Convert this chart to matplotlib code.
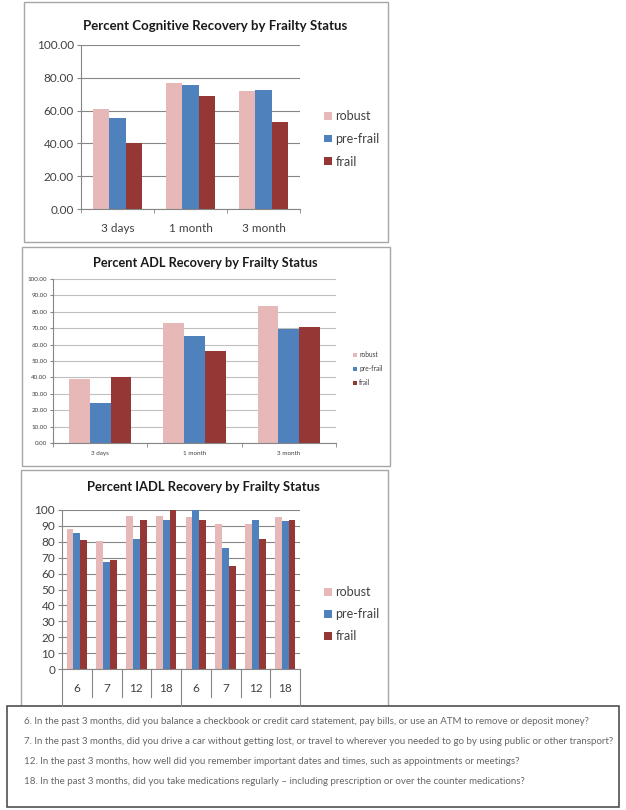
import matplotlib
matplotlib.use("Agg")
import matplotlib.pyplot as plt
from matplotlib.patches import Rectangle
import numpy as np

plt.rcParams['font.family'] = ['Lato', 'DejaVu Sans']

W, H = 626, 810

# --- data ---
series = ['robust', 'pre-frail', 'frail']
colors = ['#E6B9B8', '#4F81BD', '#953735']

cog_cats = ['3 days', '1 month', '3 month']
cog_robust = [61.0, 77.0, 72.0]
cog_prefrail = [55.3, 75.4, 72.6]
cog_frail = [40.0, 68.9, 52.8]

adl_cats = ['3 days', '1 month', '3 month']
adl_robust = [38.8, 73.1, 83.3]
adl_prefrail = [24.1, 65.3, 69.8]
adl_frail = [40.0, 56.1, 70.6]

iadl_cats = ['6', '7', '12', '18', '6', '7', '12', '18']
iadl_groups = [4, 4]
iadl_robust = [88.0, 80.3, 96.0, 96.0, 95.4, 91.4, 91.4, 95.4]
iadl_prefrail = [85.5, 67.0, 81.5, 93.5, 100.0, 76.0, 93.5, 93.3]
iadl_frail = [81.0, 68.8, 93.5, 100.0, 94.0, 64.6, 82.0, 94.0]

questions = [
    "6. In the past 3 months, did you balance a checkbook or credit card statement, pay bills, or use an ATM to remove or deposit money?",
    "7. In the past 3 months, did you drive a car without getting lost, or travel to wherever you needed to go by using public or other transport?",
    "12. In the past 3 months, how well did you remember important dates and times, such as appointments or meetings?",
    "18. In the past 3 months, did you take medications regularly \u2013 including prescription or over the counter medications?",
]


def rect(x0, y0, x1, y1):
    # pixel box (top-left origin) -> figure fraction
    return [x0 / W, 1 - y1 / H, (x1 - x0) / W, (y1 - y0) / H]


def frame(fig, x0, y0, x1, y1, ec='#A6A6A6', lw=1.0, z=-2):
    r = Rectangle((x0 / W, 1 - y1 / H), (x1 - x0) / W, (y1 - y0) / H,
                  transform=fig.transFigure, fill=True, fc='white', ec=ec, lw=lw, zorder=z)
    fig.patches.append(r)


def bar_panel(ax, cats, vals, width, grid_color, tick_fs, fmt, ystep):
    x = np.arange(len(cats))
    for i, (v, c) in enumerate(zip(vals, colors)):
        ax.bar(x + (i - 1) * width, v, width, color=c, label=series[i], zorder=2)
    ax.set_xlim(-0.5, len(cats) - 0.5)
    ax.set_ylim(0, 100)
    ax.set_yticks(np.arange(0, 101, ystep))
    ax.set_yticklabels([fmt % t for t in np.arange(0, 101, ystep)], fontsize=tick_fs, color='#404040')
    ax.yaxis.grid(True, color=grid_color, lw=0.8, zorder=0)
    ax.set_axisbelow(True)
    for s in ['top', 'right']:
        ax.spines[s].set_visible(False)
    for s in ['left', 'bottom']:
        ax.spines[s].set_color('#868686')
        ax.spines[s].set_linewidth(0.8)
    ax.tick_params(axis='y', length=3, color='#868686', pad=2)
    ax.set_xticks(x)
    ax.set_xticks(np.arange(-0.5, len(cats), 1.0), minor=True)
    ax.tick_params(axis='x', which='major', length=0)
    ax.tick_params(axis='x', which='minor', length=3, color='#868686')
    ax.patch.set_alpha(0)
    ax.set_zorder(1)
    return x


fig = plt.figure(figsize=(W / 100, H / 100), dpi=100)

# panel frames
frame(fig, 24, 2, 388, 242)
frame(fig, 22, 247, 390, 466)
frame(fig, 21, 470, 388, 720)

# --- panel 1: cognitive ---
ax1 = fig.add_axes(rect(81, 45, 300, 209))
x = bar_panel(ax1, cog_cats, [cog_robust, cog_prefrail, cog_frail], 0.22, '#868686', 8, '%.2f', 20)
ax1.set_xticklabels(cog_cats, fontsize=8.5, color='#404040')
ax1.tick_params(axis='x', which='major', pad=10)
ax1.tick_params(axis='y', labelsize=8.5)
fig.text(215 / W, 1 - 26 / H, 'Percent Cognitive Recovery by Frailty Status',
         ha='center', va='center', fontsize=9.5, fontweight='bold', color='#1a1a1a')
ax1.legend(loc='upper left', bbox_to_anchor=(318 / W, 1 - 104 / H), bbox_transform=fig.transFigure,
           frameon=False, fontsize=9, handlelength=0.6, handleheight=0.6, handletextpad=0.3,
           labelspacing=0.85, borderpad=0, labelcolor='#404040')

# --- panel 2: ADL ---
ax2 = fig.add_axes(rect(53, 279, 336, 443))
bar_panel(ax2, adl_cats, [adl_robust, adl_prefrail, adl_frail], 0.22, '#BFBFBF', 4.5, '%.2f', 10)
ax2.set_xticklabels(adl_cats, fontsize=4.5, color='#404040')
ax2.tick_params(axis='x', which='major', pad=6)
ax2.tick_params(axis='y', length=2)
fig.text(205 / W, 1 - 263 / H, 'Percent ADL Recovery by Frailty Status',
         ha='center', va='center', fontsize=9.2, fontweight='bold', color='#1a1a1a')
ax2.legend(loc='upper left', bbox_to_anchor=(350 / W, 1 - 348 / H), bbox_transform=fig.transFigure,
           frameon=False, fontsize=4.8, handlelength=0.6, handleheight=0.6, handletextpad=0.3,
           labelspacing=1.05, borderpad=0, labelcolor='#404040')

# --- panel 3: IADL ---
ax3 = fig.add_axes(rect(62, 510, 300, 669))
x3 = bar_panel(ax3, iadl_cats, [iadl_robust, iadl_prefrail, iadl_frail], 0.23, '#868686', 8, '%d', 10)
ax3.set_xticklabels(iadl_cats, fontsize=8.5, color='#404040')
ax3.tick_params(axis='x', which='major', pad=10)
ax3.tick_params(axis='x', which='minor', length=0)
ax3.tick_params(axis='y', labelsize=8.5)
# multi-level category table lines
tr = ax3.get_xaxis_transform()
edges = np.cumsum([0] + iadl_groups) - 0.5
inner_h = (697 - 669) / (669 - 510)
outer_h = (706 - 669) / (669 - 510)
for b in np.arange(-0.5, len(iadl_cats), 1.0):
    h = outer_h if b in edges else inner_h
    ax3.plot([b, b], [0, -h], transform=tr, color='#868686', lw=0.8, clip_on=False)
fig.text(203 / W, 1 - 487 / H, 'Percent IADL Recovery by Frailty Status',
         ha='center', va='center', fontsize=9.4, fontweight='bold', color='#1a1a1a')
ax3.legend(loc='upper left', bbox_to_anchor=(318 / W, 1 - 580 / H), bbox_transform=fig.transFigure,
           frameon=False, fontsize=9, handlelength=0.6, handleheight=0.6, handletextpad=0.3,
           labelspacing=0.8, borderpad=0, labelcolor='#404040')

# --- question box ---
frame(fig, 7, 706, 619, 807, ec='#505050', lw=1.2, z=-1)
for q, yy in zip(questions, [722, 742, 762, 781]):
    fig.text(24 / W, 1 - yy / H, q, ha='left', va='center', fontsize=7.0, color='#666666')

fig.savefig('out.png', dpi=100)
